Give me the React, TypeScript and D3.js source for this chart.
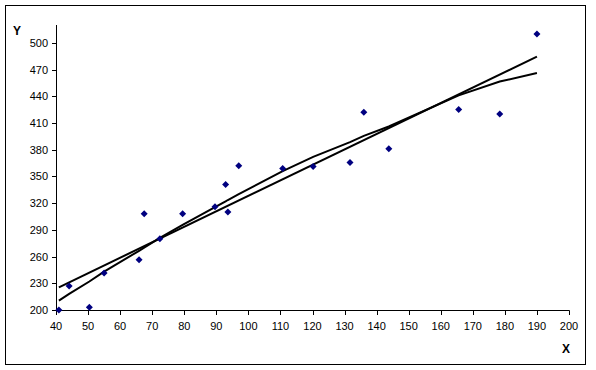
import React from "react";
import * as d3 from "d3";

const pointsX = [40.9, 44.1, 50.4, 55, 65.9, 67.5, 72.4, 79.5, 89.6, 92.9, 93.6, 97, 110.7, 120.2, 131.7, 136, 143.8, 165.6, 178.4, 190];
const pointsY = [200, 227, 203, 241.5, 256.5, 308, 280, 308, 316, 341, 310, 362, 359, 361, 365.5, 422, 381, 425, 420, 510];

const lineX = [40.9, 190];
const lineY = [225.5, 484.5];

const curveX = pointsX;
const curveY = [210.5, 218, 232, 243, 266.5, 270, 281, 295.5, 315.5, 322, 323.5, 330, 356, 372, 388.5, 395.5, 406, 441, 456.5, 466];

const xTicks = [40, 50, 60, 70, 80, 90, 100, 110, 120, 130, 140, 150, 160, 170, 180, 190, 200];
const yTicks = [200, 230, 260, 290, 320, 350, 380, 410, 440, 470, 500];

export default function App() {
  const W = 596, H = 370;
  const x = d3.scaleLinear().domain([40, 200]).range([56, 569]);
  const y = d3.scaleLinear().domain([200, 520]).range([310, 25]);
  const line = d3.line<[number, number]>().x(d => x(d[0])).y(d => y(d[1]));
  const linePts: [number, number][] = lineX.map((v, i) => [v, lineY[i]]);
  const curvePts: [number, number][] = curveX.map((v, i) => [v, curveY[i]]);
  const font = "Liberation Sans, Arial, sans-serif";
  return (
    <svg width={W} height={H} style={{ position: "absolute", left: 0, top: 0 }} fontFamily={font}>
      <rect x={0} y={0} width={W} height={H} fill="#fff" />
      <rect x={5.5} y={5.5} width={580} height={359} fill="none" stroke="#000" strokeWidth={1} />
      <line x1={56.5} x2={56.5} y1={y(520)} y2={310.5} stroke="#000" />
      <line x1={56} x2={569.5} y1={310.5} y2={310.5} stroke="#000" />
      {yTicks.map(t => (
        <g key={"y" + t}>
          <line x1={52} x2={56.5} y1={Math.round(y(t)) + 0.5} y2={Math.round(y(t)) + 0.5} stroke="#000" />
          <text x={48} y={y(t) + 4} fontSize={11} textAnchor="end" fill="#000">{t}</text>
        </g>
      ))}
      {xTicks.map(t => (
        <g key={"x" + t}>
          <line x1={Math.round(x(t)) + 0.5} x2={Math.round(x(t)) + 0.5} y1={310.5} y2={315} stroke="#000" />
          <text x={x(t)} y={330} fontSize={11} textAnchor="middle" fill="#000">{t}</text>
        </g>
      ))}
      <text x={13} y={35} fontSize={12} fontWeight="bold">Y</text>
      <text x={562} y={353} fontSize={12} fontWeight="bold">X</text>
      <path d={line(linePts) || ""} fill="none" stroke="#000" strokeWidth={2} />
      <path d={line(curvePts) || ""} fill="none" stroke="#000" strokeWidth={2} />
      {pointsX.map((v, i) => {
        const cx = x(v), cy = y(pointsY[i]);
        return (
          <path key={i} d={`M${cx},${cy - 3.5}L${cx + 3.5},${cy}L${cx},${cy + 3.5}L${cx - 3.5},${cy}Z`} fill="#000080" />
        );
      })}
    </svg>
  );
}
